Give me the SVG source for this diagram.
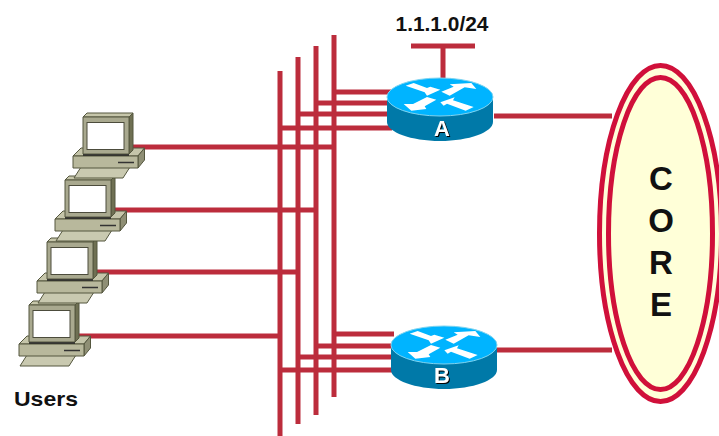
<svg xmlns="http://www.w3.org/2000/svg" xmlns:xlink="http://www.w3.org/1999/xlink" width="719" height="436" viewBox="0 0 719 436">
<style>
.w{stroke:#bc2c3c;stroke-width:5;fill:none}
.t{font-family:"Liberation Sans",Arial,sans-serif;font-weight:700;fill:#111}
.rl{font-family:"Liberation Sans",Arial,sans-serif;font-weight:700;font-size:22px;fill:#fff;text-anchor:middle;filter:drop-shadow(1px 1px 0 #000)}
.o{stroke:#55573f;stroke-width:1;stroke-linejoin:round}
</style>
<defs>
<g id="router">
<path d="M-53 0V25C-53 35 -29 44 0 44S53 35 53 25V0Z" fill="#0079a8"/>
<ellipse cx="0" cy="0" rx="53" ry="19" fill="#00b4ff" stroke="#7fd4f0" stroke-width="1"/>
<g fill="#fff" transform="scale(.3333) translate(-211,-262)">
<polygon points="108,228 132,220 172,235 182,231 212,240 172,258 165,248"/>
<polygon points="215,246 252,231 240,224 305,220 320,238 285,233 240,258"/>
<polygon points="102,283 130,283 172,262 200,270 165,290 170,298 125,303"/>
<polygon points="212,278 255,263 250,272 312,292 288,303 232,282 222,288"/>
</g>
</g>
<g id="pc">
<polygon class="o" fill="#c9c9b0" points="-2,54 47,54 40,65 -9,65"/>
<polygon class="o" fill="#c5c5aa" points="-10,43 -2,35 59,35 61.500,35 55,43"/>
<polygon class="o" fill="#8f8f75" points="55,43 61.500,35 61.500,47 55,55"/>
<rect class="o" x="-10" y="43" width="65" height="12" fill="#b8b89c"/>
<line x1="35" y1="49.500" x2="51" y2="49.500" stroke="#333" stroke-width="1.500"/>
<polygon class="o" fill="#c6c6aa" points="0,4 4,0 50,0 46,4"/>
<polygon class="o" fill="#6f7053" points="46,4 50,0 50,37 46,41"/>
<rect class="o" x="0" y="4" width="46" height="37" fill="#a9a98f"/>
<rect x="4" y="9.500" width="37" height="27" fill="#fff" stroke="#4c4c3c" stroke-width="1"/>
<line x1="0" y1="42" x2="46" y2="42" stroke="#222" stroke-width="1.500"/>
</g>
</defs>
<g id="connectors" class="w">
<path d="M280 71V436M298 57V424M316 46V415M334 35V397"/>
<path d="M334 92H392M316 103H392M298 114H392M280 128H392"/>
<path d="M334 334H394M316 346H394M298 357H394M280 370H394"/>
<path d="M130 147H334M113 210H316M95 272H298M78 336H280"/>
<path d="M494 116H612M497 350H612"/>
<path d="M411 46H475M443 46V80"/>
</g>
<g id="core">
<ellipse cx="660.500" cy="233.500" rx="61" ry="168" fill="#ffffd8" stroke="#d0103a" stroke-width="5"/>
<ellipse cx="660.500" cy="233.500" rx="52" ry="156" fill="#ffffd8" stroke="#d0103a" stroke-width="5"/>
<g class="t" font-size="33" text-anchor="middle">
<text x="661" y="190">C</text>
<text x="661" y="232">O</text>
<text x="661" y="274">R</text>
<text x="661" y="316">E</text>
</g>
</g>
<g id="router-a"><use xlink:href="#router" href="#router" transform="translate(440,97)"/><text class="rl" x="442" y="136">A</text></g>
<g id="router-b"><use xlink:href="#router" href="#router" transform="translate(444,345)"/><text class="rl" x="442" y="383">B</text></g>
<g id="pc4"><use xlink:href="#pc" href="#pc" transform="translate(29,301)"/></g>
<g id="pc3"><use xlink:href="#pc" href="#pc" transform="translate(47,238)"/></g>
<g id="pc2"><use xlink:href="#pc" href="#pc" transform="translate(65,176)"/></g>
<g id="pc1"><use xlink:href="#pc" href="#pc" transform="translate(83,113)"/></g>
<g id="labels">
<text class="t" x="442" y="31" font-size="20" text-anchor="middle" textLength="93" lengthAdjust="spacingAndGlyphs">1.1.1.0/24</text>
<text class="t" x="14" y="406" font-size="21" textLength="64" lengthAdjust="spacingAndGlyphs">Users</text>
</g>
</svg>
